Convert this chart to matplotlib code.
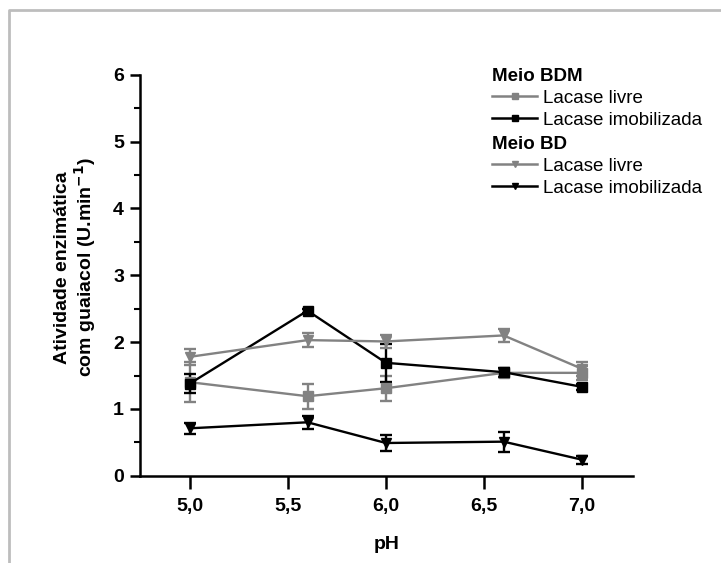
import matplotlib
matplotlib.use('Agg')
import matplotlib.pyplot as plt
from matplotlib.lines import Line2D
from matplotlib.ticker import FuncFormatter, MultipleLocator

plt.rcParams['font.family'] = ['Liberation Sans', 'DejaVu Sans']

ph = [5.0, 5.6, 6.0, 6.6, 7.0]

# Meio BDM
bdm_livre = [1.40, 1.19, 1.31, 1.54, 1.54]
bdm_livre_err = [0.30, 0.19, 0.19, 0.06, 0.10]
bdm_imob = [1.38, 2.47, 1.69, 1.55, 1.33]
bdm_imob_err = [0.14, 0.03, 0.28, 0.07, 0.05]

# Meio BD
bd_livre = [1.78, 2.03, 2.01, 2.10, 1.60]
bd_livre_err = [0.12, 0.10, 0.10, 0.10, 0.10]
bd_imob = [0.71, 0.80, 0.49, 0.51, 0.24]
bd_imob_err = [0.08, 0.10, 0.12, 0.15, 0.06]

GRAY = '#828282'
BLACK = '#000000'

fig = plt.figure(figsize=(7.21, 5.63), dpi=100)
ax = fig.add_axes([0.194, 0.155, 0.684, 0.712])

series = [
    (bdm_livre, bdm_livre_err, GRAY, 's'),
    (bdm_imob, bdm_imob_err, BLACK, 's'),
    (bd_livre, bd_livre_err, GRAY, 'v'),
    (bd_imob, bd_imob_err, BLACK, 'v'),
]
for vals, err, col, mk in series:
    ax.errorbar(ph, vals, yerr=err, color=col, marker=mk, markersize=7.5,
                linewidth=1.7, elinewidth=1.7, capsize=4.5, capthick=1.7)

ax.set_xlim(4.745, 7.26)
ax.set_ylim(0, 6)
ax.xaxis.set_major_locator(MultipleLocator(0.5))
ax.yaxis.set_major_locator(MultipleLocator(1))
ax.yaxis.set_minor_locator(MultipleLocator(0.5))
ax.xaxis.set_major_formatter(FuncFormatter(lambda v, p: f'{v:.1f}'.replace('.', ',')))
ax.yaxis.set_major_formatter(FuncFormatter(lambda v, p: f'{v:.0f}'))

for s in ['top', 'right']:
    ax.spines[s].set_visible(False)
for s in ['left', 'bottom']:
    ax.spines[s].set_linewidth(1.8)
ax.tick_params(which='major', direction='out', width=1.8, labelsize=14)
ax.tick_params(axis='x', which='major', length=9, pad=7)
ax.tick_params(axis='y', which='major', length=7.5, pad=4)
ax.tick_params(which='minor', direction='out', length=4.5, width=1.5)
for lab in ax.get_xticklabels() + ax.get_yticklabels():
    lab.set_fontweight('bold')

ax.set_xlabel('pH', fontsize=14, fontweight='bold')
ax.xaxis.set_label_coords(0.5, -0.151)
ax.set_ylabel('Atividade enzimática\ncom guaiacol (U.min$^{\\mathbf{-1}}$)',
              fontsize=14, fontweight='bold', linespacing=1.1)
ax.yaxis.set_label_coords(-0.084, 0.52)

def handle(col, mk):
    return Line2D([], [], color=col, marker=mk, markersize=5, linewidth=1.8)

leg_kw = dict(frameon=False, fontsize=13.5, handlelength=2.4, handletextpad=0.3,
              borderpad=0, labelspacing=0.24, alignment='left',
              title_fontproperties={'weight': 'bold', 'size': 13.5},
              bbox_transform=fig.transFigure, loc='upper left')
leg1 = ax.legend([handle(GRAY, 's'), handle(BLACK, 's')],
                 ['Lacase livre', 'Lacase imobilizada'], title='Meio BDM',
                 bbox_to_anchor=(483 / 721, 1 - 59 / 563), **leg_kw)
ax.add_artist(leg1)
ax.legend([handle(GRAY, 'v'), handle(BLACK, 'v')],
          ['Lacase livre', 'Lacase imobilizada'], title='Meio BD',
          bbox_to_anchor=(483 / 721, 1 - 127 / 563), **leg_kw)

# outer frame (top and left edges of the cropped panel)
fig.add_artist(Line2D([9 / 721, 9 / 721, 1], [0, 1 - 10 / 563, 1 - 10 / 563],
                      transform=fig.transFigure, color='#bdbdbd', linewidth=2))

fig.savefig('out.png', dpi=100)
